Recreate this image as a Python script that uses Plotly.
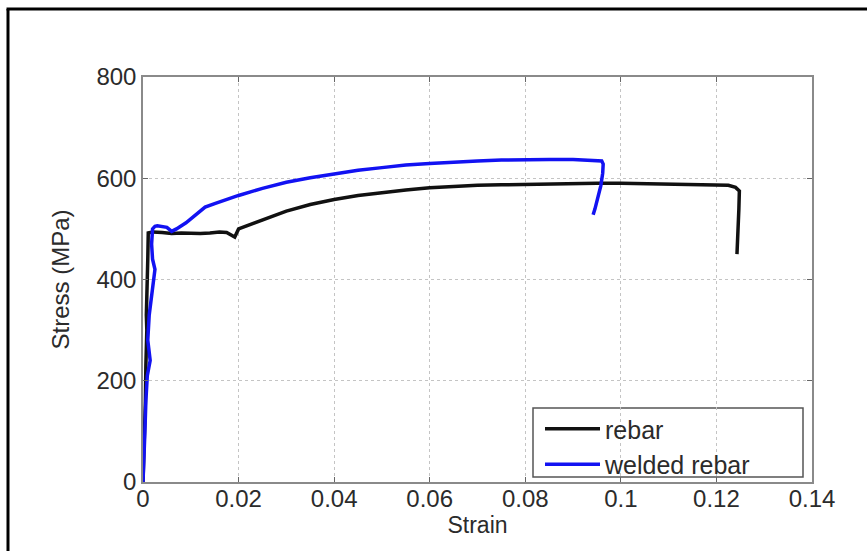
import plotly.graph_objects as go

# ---- data ----
rebar_strain = [0, 0.0003, 0.0005, 0.0006, 0.0008, 0.0007, 0.0009, 0.0010, 0.0011,
                0.002, 0.004, 0.006, 0.008, 0.010, 0.012, 0.014, 0.016, 0.0175,
                0.0185, 0.0192, 0.020, 0.022, 0.025, 0.030, 0.035, 0.040, 0.045,
                0.050, 0.055, 0.060, 0.065, 0.070, 0.075, 0.080, 0.085, 0.090,
                0.095, 0.100, 0.105, 0.110, 0.115, 0.120, 0.1225, 0.1240, 0.1248,
                0.1247, 0.1245, 0.1243]
rebar_stress = [0, 80, 160, 230, 300, 330, 380, 440, 492,
                494, 493, 491, 492, 491, 491, 492, 494, 493,
                487, 484, 500, 507, 519, 535, 548, 558, 566,
                572, 577, 581, 584, 586, 587, 588, 589, 589,
                590, 590, 589, 589, 588, 587, 586, 582, 575,
                540, 500, 450]

welded_strain = [0, 0.0002, 0.0004, 0.0006, 0.0009, 0.0015, 0.0010, 0.0013, 0.0018,
                 0.0022, 0.0025, 0.0020, 0.0018, 0.0020, 0.0025, 0.0030, 0.0040,
                 0.0050, 0.0060, 0.0070, 0.0090, 0.011, 0.013, 0.015, 0.018, 0.020,
                 0.025, 0.030, 0.035, 0.040, 0.045, 0.050, 0.055, 0.060, 0.065,
                 0.070, 0.075, 0.080, 0.085, 0.090, 0.093, 0.095, 0.0960, 0.0963,
                 0.0962, 0.0958, 0.0952, 0.0946, 0.0942]
welded_stress = [0, 40, 100, 160, 210, 240, 280, 330, 370,
                 400, 420, 440, 470, 500, 505, 506, 505,
                 503, 495, 500, 512, 527, 543, 550, 560, 566,
                 580, 592, 601, 609, 616, 621, 626, 629, 632,
                 634, 636, 637, 637, 637, 636, 636, 634, 628,
                 610, 585, 560, 540, 528]

x_ticks = [0, 0.02, 0.04, 0.06, 0.08, 0.1, 0.12, 0.14]
x_labels = ["0", "0.02", "0.04", "0.06", "0.08", "0.1", "0.12", "0.14"]
y_ticks = [0, 200, 400, 600, 800]
y_labels = ["0", "200", "400", "600", "800"]

FONT = "Liberation Sans, Arial, sans-serif"
TXT = "#2b2b2b"

fig = go.Figure()
fig.add_trace(go.Scatter(x=rebar_strain, y=rebar_stress, mode="lines",
                         name="rebar", line=dict(color="#111111", width=3.5)))
fig.add_trace(go.Scatter(x=welded_strain, y=welded_stress, mode="lines",
                         name="welded rebar", line=dict(color="#1212f2", width=3.5)))

axis_common = dict(
    showline=True, linecolor="#8a8a8a", linewidth=1.5, mirror="ticks",
    ticks="inside", ticklen=5, tickcolor="#666666",
    showgrid=True, gridcolor="#c4c4c4", griddash="dot", gridwidth=1,
    zeroline=False, tickfont=dict(family=FONT, size=24, color=TXT),
)

fig.update_xaxes(range=[0, 0.14], tickvals=x_ticks, ticktext=x_labels,
                 ticklabelstandoff=-6,
                 title=dict(text="Strain", font=dict(family=FONT, size=23, color=TXT),
                            standoff=2),
                 **axis_common)
fig.update_yaxes(range=[0, 800], tickvals=y_ticks, ticktext=y_labels,
                 title=dict(text="Stress (MPa)", font=dict(family=FONT, size=24, color=TXT),
                            standoff=20),
                 **axis_common)

# outer figure frame (left and top edges visible in the reference)
fig.add_shape(type="line", xref="paper", yref="paper",
              x0=-0.2018, x1=-0.2018, y0=1.168, y1=-0.3,
              line=dict(color="black", width=3))
fig.add_shape(type="line", xref="paper", yref="paper",
              x0=-0.2040, x1=1.2, y0=1.168, y1=1.168,
              line=dict(color="black", width=3))

# legend box outline
fig.add_shape(type="rect", xref="paper", yref="paper",
              x0=(533 - 143) / 669, x1=(803 - 143) / 669,
              y0=(482 - 477) / 405, y1=(482 - 408) / 405,
              line=dict(color="#555555", width=1.5), fillcolor="white", layer="below")

fig.update_layout(
    width=867, height=551,
    margin=dict(l=143, r=55, t=77, b=69),
    paper_bgcolor="white", plot_bgcolor="rgba(0,0,0,0)",
    font=dict(family=FONT, color=TXT),
    legend=dict(x=(540 - 143) / 669, y=(482 - 406) / 405, xanchor="left", yanchor="top",
                bgcolor="rgba(0,0,0,0)", borderwidth=0,
                font=dict(family=FONT, size=25, color=TXT),
                tracegroupgap=0, itemwidth=55),
    showlegend=True,
)

fig.write_html("out.html")
